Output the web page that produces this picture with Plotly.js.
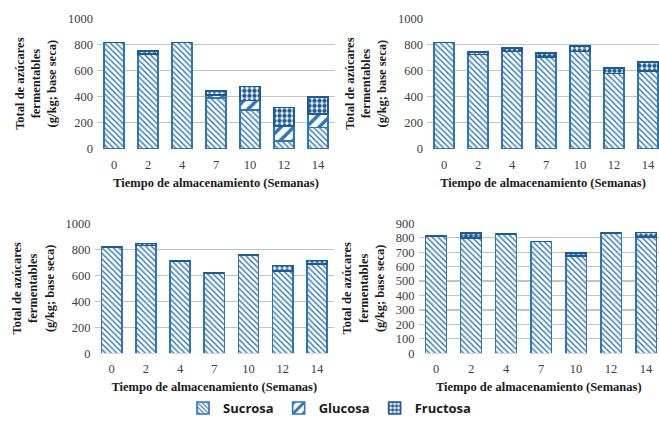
<!DOCTYPE html>
<html>
<head>
<meta charset="utf-8">
<script src="https://cdn.plot.ly/plotly-3.0.1.min.js"></script>
<style>html,body{margin:0;padding:0;background:#fff;}#chart{width:659px;height:423px;}</style>
</head>
<body>
<div id="chart"></div>
<script>
// Data
const weeks = ['0','2','4','7','10','12','14'];
// panel A (top-left)
const sucA = [815, 725, 815, 388, 298, 60, 166];
const gluA = [0, 0, 0, 25, 72, 115, 100];
const fruA = [0, 27, 0, 32, 107, 143, 134];
// panel B (top-right)
const sucB = [816, 724, 745, 706, 747, 579, 597];
const gluB = [0, 0, 0, 0, 0, 0, 0];
const fruB = [0, 18, 30, 28, 40, 40, 70];
// panel C (bottom-left)
const sucC = [820, 828, 708, 620, 756, 635, 689];
const gluC = [0, 0, 0, 0, 0, 0, 0];
const fruC = [0, 18, 0, 0, 0, 39, 26];
// panel D (bottom-right)
const sucD = [814, 800, 826, 773, 675, 833, 807];
const gluD = [0, 0, 0, 0, 0, 0, 0];
const fruD = [0, 31, 0, 0, 18, 0, 28];

const seriesNames = ['Sucrosa', 'Glucosa', 'Fructosa'];

const BLUE = '#2e75b6';
const DARK = '#1d5a96';
const patterns = [
  {shape: '\\', size: 4, solidity: 0.35, fgcolor: BLUE, bgcolor: '#ffffff', fillmode: 'replace'},
  {shape: '/', size: 9, solidity: 0.4, fgcolor: BLUE, bgcolor: '#ffffff', fillmode: 'replace'},
  {shape: '.', size: 5, solidity: 0.6, fgcolor: DARK, bgcolor: '#ffffff', fillmode: 'replace'}
];
const lineColors = [BLUE, BLUE, DARK];

const panels = [
  {s: sucA, g: gluA, f: fruA, xa: 'x', ya: 'y'},
  {s: sucB, g: gluB, f: fruB, xa: 'x2', ya: 'y2'},
  {s: sucC, g: gluC, f: fruC, xa: 'x3', ya: 'y3'},
  {s: sucD, g: gluD, f: fruD, xa: 'x4', ya: 'y4'}
];

const traces = [];
panels.forEach((p, pi) => {
  [p.s, p.g, p.f].forEach((vals, si) => {
    traces.push({
      type: 'bar',
      x: weeks,
      y: vals,
      xaxis: p.xa,
      yaxis: p.ya,
      name: seriesNames[si],
      legendgroup: seriesNames[si],
      showlegend: pi === 0,
      marker: {
        color: BLUE,
        line: {color: lineColors[si], width: 1.6},
        pattern: patterns[si]
      },
      hoverinfo: 'x+y+name'
    });
  });
});

const W = 659, H = 423;
const px = (a, b) => [a / W, Math.min(b / W, 1)];
const py = (top, bottom) => [(H - bottom) / H, (H - top) / H];

const SERIF = '"Liberation Serif", "Times New Roman", Times, serif';
const tickFont = {family: SERIF, size: 12.5, color: '#404040'};
const titleFont = {family: SERIF, size: 12.5, color: '#1a1a1a'};
const yTitle = '<b>Total de azúcares<br>fermentables<br>(g/kg; base seca)</b>';
const xTitle = '<b>Tiempo de almacenamiento (Semanas)</b>';

function xax(dom, range) {
  return {
    domain: dom, type: 'category', range: range,
    showgrid: false, zeroline: false, showline: false, ticks: '',
    ticklabelstandoff: 6,
    tickfont: tickFont,
    title: {text: xTitle, font: titleFont, standoff: 7},
    fixedrange: true
  };
}
function yax(dom, range, dtick, anchor) {
  return {
    domain: dom, range: range, dtick: dtick, anchor: anchor,
    showgrid: true, gridcolor: '#c3c3c3', gridwidth: 1.2,
    zeroline: false, showline: false, ticks: '',
    ticklabelstandoff: 3,
    tickfont: tickFont,
    title: {text: yTitle, font: titleFont, standoff: 8},
    fixedrange: true
  };
}

const layout = {
  width: W, height: H,
  margin: {l: 0, r: 0, t: 0, b: 0},
  paper_bgcolor: '#ffffff', plot_bgcolor: '#ffffff',
  barmode: 'stack', bargap: 0.41,
  font: {family: SERIF, color: '#333'},
  xaxis: Object.assign(xax(px(97, 335), [-0.5, 6.5]), {anchor: 'y'}),
  yaxis: yax(py(18.3, 149), [0, 1000], 200, 'x'),
  xaxis2: Object.assign(xax(px(427, 659), [-0.5, 6.32]), {anchor: 'y2'}),
  yaxis2: yax(py(18.3, 149), [0, 1000], 200, 'x2'),
  xaxis3: Object.assign(xax(px(94.6, 334), [-0.5, 6.5]), {anchor: 'y3'}),
  yaxis3: yax(py(223.3, 353.3), [0, 1000], 200, 'x3'),
  xaxis4: Object.assign(xax(px(418.5, 659), [-0.5, 6.37]), {anchor: 'y4'}),
  yaxis4: yax(py(223.3, 353.3), [0, 900], 100, 'x4'),
  showlegend: true,
  legend: {
    orientation: 'h', x: 0.5, xanchor: 'center', y: 15 / H, yanchor: 'middle',
    font: {family: '"Open Sans", "DejaVu Sans", sans-serif', size: 13, color: '#1a1a1a', weight: 'bold'},
    itemwidth: 30, tracegroupgap: 0, bgcolor: 'rgba(0,0,0,0)'
  }
};

Plotly.newPlot('chart', traces, layout, {displayModeBar: false, staticPlot: true});
</script>
</body>
</html>
